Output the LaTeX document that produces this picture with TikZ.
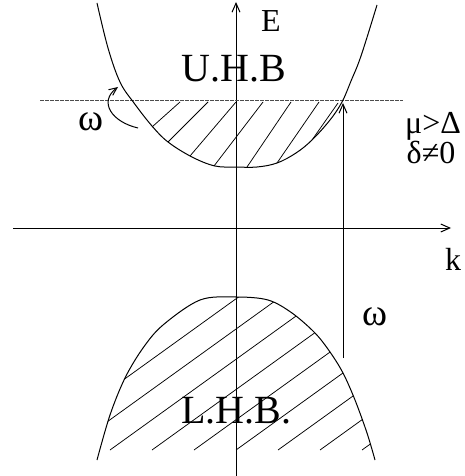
\documentclass[tikz,border=0pt]{standalone}
\usepackage{fontspec}
\setmainfont{Liberation Serif}
\usetikzlibrary{arrows.meta}
\tikzset{
  ln/.style={line width=1pt},
  axisarrow/.style={ln,-{Straight Barb[length=9pt,width=8pt,line width=1pt]}},
  hatch/.style={line width=0.75pt},
  dashline/.style={line width=1pt, draw=black!70, dash pattern=on 3.5pt off 1.5pt},
  lbl/.style={inner sep=0pt, anchor=base, font=\fontsize{32}{32}\selectfont},
  omegalbl/.style={inner sep=0pt, anchor=base, font=\fontsize{38}{38}\selectfont},
  bandlbl/.style={inner sep=0pt, anchor=base, font=\fontsize{40}{40}\selectfont},
}
\begin{document}
\begin{tikzpicture}[x=1pt,y=-1pt]
\useasboundingbox (0,0) rectangle (465,476);
% axes
\coordinate (Ebot) at (236,476);
\coordinate (Etop) at (236,2);
\coordinate (kleft) at (13,228);
\coordinate (kright) at (451,228);
\draw[axisarrow] (Ebot) -- (Etop);
\draw[axisarrow] (kleft) -- (kright);
% chemical potential
\coordinate (mul) at (40,101);
\coordinate (mur) at (403,101);
\draw[dashline] (mul) -- (mur);
% upper band
\draw[ln] plot[smooth, tension=0.6] coordinates {(97,3) (108,48) (120,82) (134,103) (152,126) (168,142) (192,157) (215,166) (236,167) (257,167) (277,163) (296,153) (312,140) (330,120) (342,102) (351,81) (361,56) (377,5)};
\foreach \a/\b/\c/\d in {152/127/180/102, 168/142/208/102, 190/156/236/102, 214/166/263/102, 247/167/291/102, 277/163/319/102, 312/140/338/103}
  \draw[hatch] (\a,\b) -- (\c,\d);
% lower band
\draw[ln] plot[smooth, tension=0.55] coordinates {(97,460) (110,415) (125,378) (143,348) (163,325) (200,300) (236,297) (268,300) (292,313) (315,333) (330,352) (343,373) (355,400) (367,433) (375,460)};
\begin{scope}
\clip plot[smooth, tension=0.55] coordinates {(97,460) (110,415) (125,378) (143,348) (163,325) (200,300) (236,297) (268,300) (292,313) (315,333) (330,352) (343,373) (355,400) (367,433) (375,460)} -- cycle;
\foreach \a in {26,68,...,362}
  \draw[hatch] (\a,450) -- ++(220,-158.4);
\end{scope}
% excitation arrow
\coordinate (wbot) at (343,358);
\coordinate (wtop) at (343,103);
\draw[axisarrow] (wbot) -- (wtop);
% curved arrow
\coordinate (cstart) at (138,128);
\coordinate (cend) at (118,87);
\draw[ln,-{Straight Barb[length=8pt,width=7pt,line width=1pt]}] (cstart) .. controls (112,122) and (98,102) .. (cend);
% labels
\node[lbl] (E) at (271,32) {E};
\node[bandlbl] (UHB) at (234,82) {U.H.B};
\node[bandlbl] (LHB) at (236,423) {L.H.B.};
\node[omegalbl] (wl) at (91,130) {ω};
\node[omegalbl] (wr) at (375,325) {ω};
\node[lbl] (k) at (453,270) {k};
\node[lbl] (mu) at (433,133) {μ>Δ};
\node[lbl] (de) at (431,163) {δ≠0};
\end{tikzpicture}
\end{document}
